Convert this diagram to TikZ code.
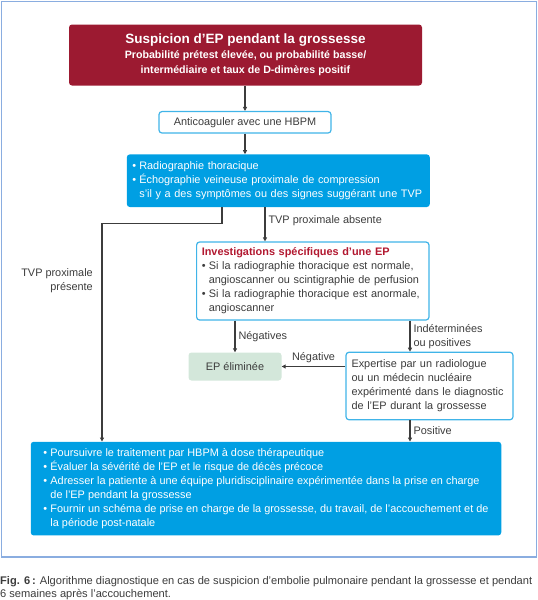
\documentclass[tikz,border=0pt]{standalone}
\usepackage{fontspec}
\setmainfont{Liberation Sans}
\usetikzlibrary{arrows.meta,positioning}

\definecolor{rougeep}{RGB}{156,26,49}
\definecolor{titrerouge}{RGB}{178,24,48}
\definecolor{bleuep}{RGB}{0,159,227}
\definecolor{bleuclair}{RGB}{64,180,232}
\definecolor{vertep}{RGB}{211,231,218}
\definecolor{cadreep}{RGB}{138,173,224}
\definecolor{grisep}{RGB}{60,60,60}

\newcommand{\puce}{\makebox[7pt][l]{\textbullet}}
\newcommand{\suite}{\hspace*{7pt}}

\begin{document}
\begin{tikzpicture}[x=1pt, y=-1pt,
      boite/.style={rounded corners=3pt, inner ysep=0pt, font=\fontsize{10.9}{14}\selectfont},
      rouge/.style={boite, fill=rougeep, text=white, align=center, font=\bfseries\fontsize{10.65}{15}\selectfont},
      bleu/.style={boite, fill=bleuep, text=white, align=left},
      blanc/.style={boite, draw=bleuclair, line width=1.2pt, fill=white, text=grisep, align=left},
      vert/.style={boite, fill=vertep, text=grisep},
      etiq/.style={text=grisep, font=\fontsize{10.9}{14}\selectfont, inner sep=3pt},
      fleche/.style={-{Triangle[length=4pt,width=4pt]}, draw=grisep, line width=1.1pt}]

\useasboundingbox (0,0) rectangle (538,600);
\draw[cadreep, line width=1.6pt] (1.5,1.5) rectangle (536.5,557);

% boites
\node[rouge, minimum width=353pt, minimum height=61pt] (susp) at (245.5,55)
  {{\fontsize{13.5}{16}\selectfont Suspicion d'EP pendant la grossesse}\\
   Probabilité prétest élevée, ou probabilité basse/\\
   intermédiaire et taux de D-dimères positif};
\node[blanc, align=center, minimum width=172pt, minimum height=21.5pt] (anti) at (245,122.3)
  {Anticoaguler avec une HBPM};
\node[bleu, inner xsep=5.5pt, text width=292pt, minimum height=52.6pt] (radio) at (278.3,180.7)
  {\puce Radiographie thoracique\\
   \puce Échographie veineuse proximale de compression\\
   \suite s'il y a des symptômes ou des signes suggérant une TVP};
\node[blanc, inner xsep=5.2pt, text width=222pt, minimum height=78pt] (invest) at (312.8,281)
  {{\bfseries\color{titrerouge}Investigations spécifiques d'une EP}\\
   \puce Si la radiographie thoracique est normale,\\
   \suite angioscanner ou scintigraphie de perfusion\\
   \puce Si la radiographie thoracique est anormale,\\
   \suite angioscanner};
\node[vert, minimum width=93pt, minimum height=28pt] (elim) at (235,366.5) {EP éliminée};
\node[blanc, inner xsep=5.5pt, text width=156pt, minimum height=67.5pt] (expert) at (429.5,386)
  {Expertise par un radiologue\\
   ou un médecin nucléaire\\
   expérimenté dans le diagnostic\\
   de l'EP durant la grossesse};
\node[bleu, minimum width=470.5pt, minimum height=93.7pt] (suivi) at (266,488.6)
  {\puce Poursuivre le traitement par HBPM à dose thérapeutique\\
   \puce Évaluer la sévérité de l'EP et le risque de décès précoce\\
   \puce Adresser la patiente à une équipe pluridisciplinaire expérimentée dans la prise en charge\\
   \suite de l'EP pendant la grossesse\\
   \puce Fournir un schéma de prise en charge de la grossesse, du travail, de l'accouchement et de\\
   \suite la période post-natale};

% points de passage
\coordinate (xabs) at (265,0);
\coordinate (xpres) at (222,0);
\coordinate (coude) at (102,223.4);
\coordinate (xdroite) at (410,0);

% fleches
\draw[fleche] (susp.south -| anti) -- (anti.north);
\draw[fleche] (anti.south) -- (anti.south |- radio.north);
\draw[fleche] (radio.south -| xabs) -- (invest.north -| xabs)
  node[etiq, right, pos=0.4] {TVP proximale absente};
\draw[fleche] (radio.south -| xpres) |- (coude) -- (coude |- suivi.north);
\node[etiq, anchor=east, align=right] (tvppres) at (96,281) {TVP proximale\\présente};
\draw[fleche] (invest.south -| elim) -- (elim.north)
  node[etiq, right, midway] {Négatives};
\draw[fleche] (invest.south -| xdroite) -- (expert.north -| xdroite)
  node[etiq, right, midway, align=left] {Indéterminées\\ou positives};
\draw[fleche] (elim.east -| expert.west) -- (elim.east)
  node[etiq, above, midway] {Négative};
\draw[fleche] (expert.south -| xdroite) -- (suivi.north -| xdroite)
  node[etiq, right, midway] {Positive};

% legende
\node[etiq, anchor=north west, align=left, inner sep=0pt, font=\fontsize{11.1}{12.3}\selectfont] (legende) at (0,576.5)
  {\textbf{Fig. 6\,:} Algorithme diagnostique en cas de suspicion d'embolie pulmonaire pendant la grossesse et pendant\\
   6 semaines après l'accouchement.};

\end{tikzpicture}
\end{document}
